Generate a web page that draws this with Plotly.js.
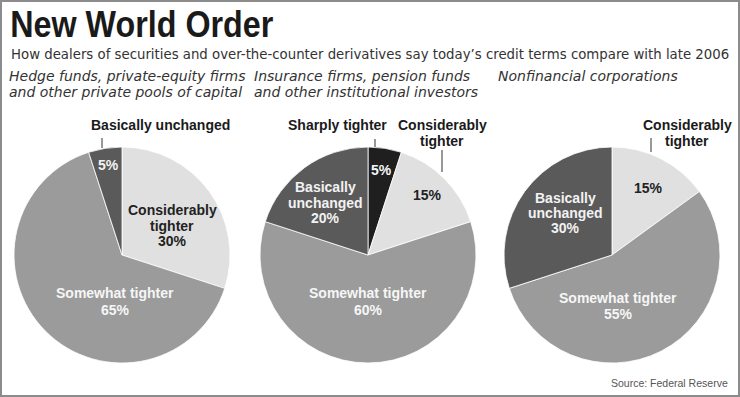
<!DOCTYPE html>
<html>
<head>
<meta charset="utf-8">
<script src="https://cdn.plot.ly/plotly-3.0.1.min.js"></script>
<style>html,body{margin:0;padding:0;background:#fff}#chart{width:740px;height:397px}</style>
</head>
<body>
<div id="chart"></div>
<script>
// ---- Data ----
const chartTitle = "New World Order";
const chartSubtitle = "How dealers of securities and over-the-counter derivatives say today\u2019s credit terms compare with late 2006";
const panelTitles = [
  ["Hedge funds, private-equity firms", "and other private pools of capital"],
  ["Insurance firms, pension funds", "and other institutional investors"],
  ["Nonfinancial corporations"]
];
const hedgeCategories = ["Considerably tighter", "Somewhat tighter", "Basically unchanged"];
const hedgeValues = [30, 65, 5];
const insuranceCategories = ["Sharply tighter", "Considerably tighter", "Somewhat tighter", "Basically unchanged"];
const insuranceValues = [5, 15, 60, 20];
const nonfinCategories = ["Considerably tighter", "Somewhat tighter", "Basically unchanged"];
const nonfinValues = [15, 55, 30];
const sourceNote = "Source: Federal Reserve";

// ---- Styles / layout ----
const W = 740, H = 397;
const colorFor = {
  "Sharply tighter": "#1f1f1f",
  "Considerably tighter": "#e0e0e0",
  "Somewhat tighter": "#9b9b9b",
  "Basically unchanged": "#5a5a5a"
};
const textColorFor = {
  "Sharply tighter": "#f6f6f6",
  "Considerably tighter": "#222222",
  "Somewhat tighter": "#f6f6f6",
  "Basically unchanged": "#f2f2f2"
};
const R = 108, CY = 255;
const pieCenters = [122, 368, 612];
const px = (x) => x / W;
const py = (y) => 1 - y / H;

const pies = [
  {cats: hedgeCategories, vals: hedgeValues},
  {cats: insuranceCategories, vals: insuranceValues},
  {cats: nonfinCategories, vals: nonfinValues}
];

const placements = [
  [
    {cat: "Considerably tighter", mode: "inside", split: 1, x: 172, y: 210, dy: 15.5},
    {cat: "Somewhat tighter", mode: "inside", split: 0, x: 115, y: 293, dy: 16.5},
    {cat: "Basically unchanged", mode: "pctOnly", x: 108, y: 165,
      nameSplit: 0, nx: 160, ny: 125, ndy: 16, lx: 102, ly0: 138, ly1: 148}
  ],
  [
    {cat: "Sharply tighter", mode: "pctOnly", x: 382, y: 170,
      nameSplit: 0, nx: 337, ny: 125, ndy: 16, lx: 375, ly0: 139, ly1: 147},
    {cat: "Considerably tighter", mode: "pctOnly", x: 427, y: 195,
      nameSplit: 1, nx: 442, ny: 125, ndy: 16.5, lx: 442, ly0: 150, ly1: 172},
    {cat: "Basically unchanged", mode: "inside", split: 1, x: 325, y: 187, dy: 15.5},
    {cat: "Somewhat tighter", mode: "inside", split: 0, x: 368, y: 293, dy: 16.5}
  ],
  [
    {cat: "Considerably tighter", mode: "pctOnly", x: 648, y: 188,
      nameSplit: 1, nx: 687, ny: 125, ndy: 16.5, lx: 651, ly0: 138, ly1: 152},
    {cat: "Basically unchanged", mode: "inside", split: 1, x: 565, y: 198, dy: 15},
    {cat: "Somewhat tighter", mode: "inside", split: 0, x: 618, y: 298, dy: 15.5}
  ]
];

function splitName(name, split) {
  if (!split) return [name];
  const w = name.split(" ");
  return [w.slice(0, split).join(" "), w.slice(split).join(" ")];
}

const labelFont = (color) => ({family: "Liberation Sans, Arial, sans-serif", size: 14, color: color, weight: "bold"});

const traces = pies.map((p, i) => ({
  type: "pie",
  labels: p.cats,
  values: p.vals,
  sort: false,
  direction: "clockwise",
  rotation: 0,
  textinfo: "none",
  hoverinfo: "label+percent",
  showlegend: false,
  marker: {colors: p.cats.map(c => colorFor[c]), line: {color: "#ffffff", width: 0.8}},
  domain: {x: [px(pieCenters[i] - R), px(pieCenters[i] + R)], y: [py(CY + R), py(CY - R)]}
}));

const annotations = [];
const shapes = [];
function addText(text, x, y, font, xanchor) {
  annotations.push({xref: "paper", yref: "paper", x: px(x), y: py(y), text: text,
    showarrow: false, xanchor: xanchor || "center", yanchor: "middle", font: font});
}

placements.forEach((list, i) => {
  const p = pies[i];
  list.forEach(pl => {
    const k = p.cats.indexOf(pl.cat);
    const pct = p.vals[k] + "%";
    const col = textColorFor[pl.cat];
    if (pl.mode === "inside") {
      const lines = splitName(p.cats[k], pl.split).concat([pct]);
      lines.forEach((t, j) => addText(t, pl.x, pl.y + j * pl.dy, labelFont(col)));
    } else {
      addText(pct, pl.x, pl.y, labelFont(col));
      splitName(p.cats[k], pl.nameSplit).forEach((t, j) => addText(t, pl.nx, pl.ny + j * pl.ndy, labelFont("#1a1a1a")));
      shapes.push({type: "line", xref: "paper", yref: "paper", x0: px(pl.lx), x1: px(pl.lx), y0: py(pl.ly0), y1: py(pl.ly1),
        line: {color: "#333333", width: 1}});
    }
  });
});

// titles (headline centred on its target span; condensed after render)
const TITLE_LEFT = 10, TITLE_WIDTH = 263;
addText(chartTitle, TITLE_LEFT + TITLE_WIDTH / 2, 25, {family: "Liberation Sans, Arial, sans-serif", size: 37, color: "#1a1a1a", weight: "bold"}, "center");
addText(chartSubtitle, 9, 54, {family: "DejaVu Sans, sans-serif", size: 13.3, color: "#333333"}, "left");
const panelX = [7, 252, 496];
panelTitles.forEach((lines, i) => {
  lines.forEach((t, j) => addText("<i>" + t + "</i>", panelX[i], 76 + j * 16.5,
    {family: "DejaVu Sans, sans-serif", size: 14, color: "#333333"}, "left"));
});
addText(sourceNote, 730, 383, {family: "Liberation Sans, Arial, sans-serif", size: 10.5, color: "#555555"}, "right");

// frame
shapes.push({type: "rect", xref: "paper", yref: "paper", x0: px(1), x1: px(739), y0: py(396), y1: py(1),
  line: {color: "#8c8c8c", width: 2}});

const layout = {
  width: W, height: H,
  margin: {l: 0, r: 0, t: 0, b: 0},
  paper_bgcolor: "#ffffff",
  annotations: annotations,
  shapes: shapes
};
Plotly.newPlot("chart", traces, layout, {displayModeBar: false, staticPlot: true}).then(() => {
  document.querySelectorAll("#chart text.annotation-text").forEach(el => {
    if (el.textContent === chartTitle) {
      el.setAttribute("textLength", String(TITLE_WIDTH));
      el.setAttribute("lengthAdjust", "spacingAndGlyphs");
    }
  });
});
</script>
</body>
</html>
